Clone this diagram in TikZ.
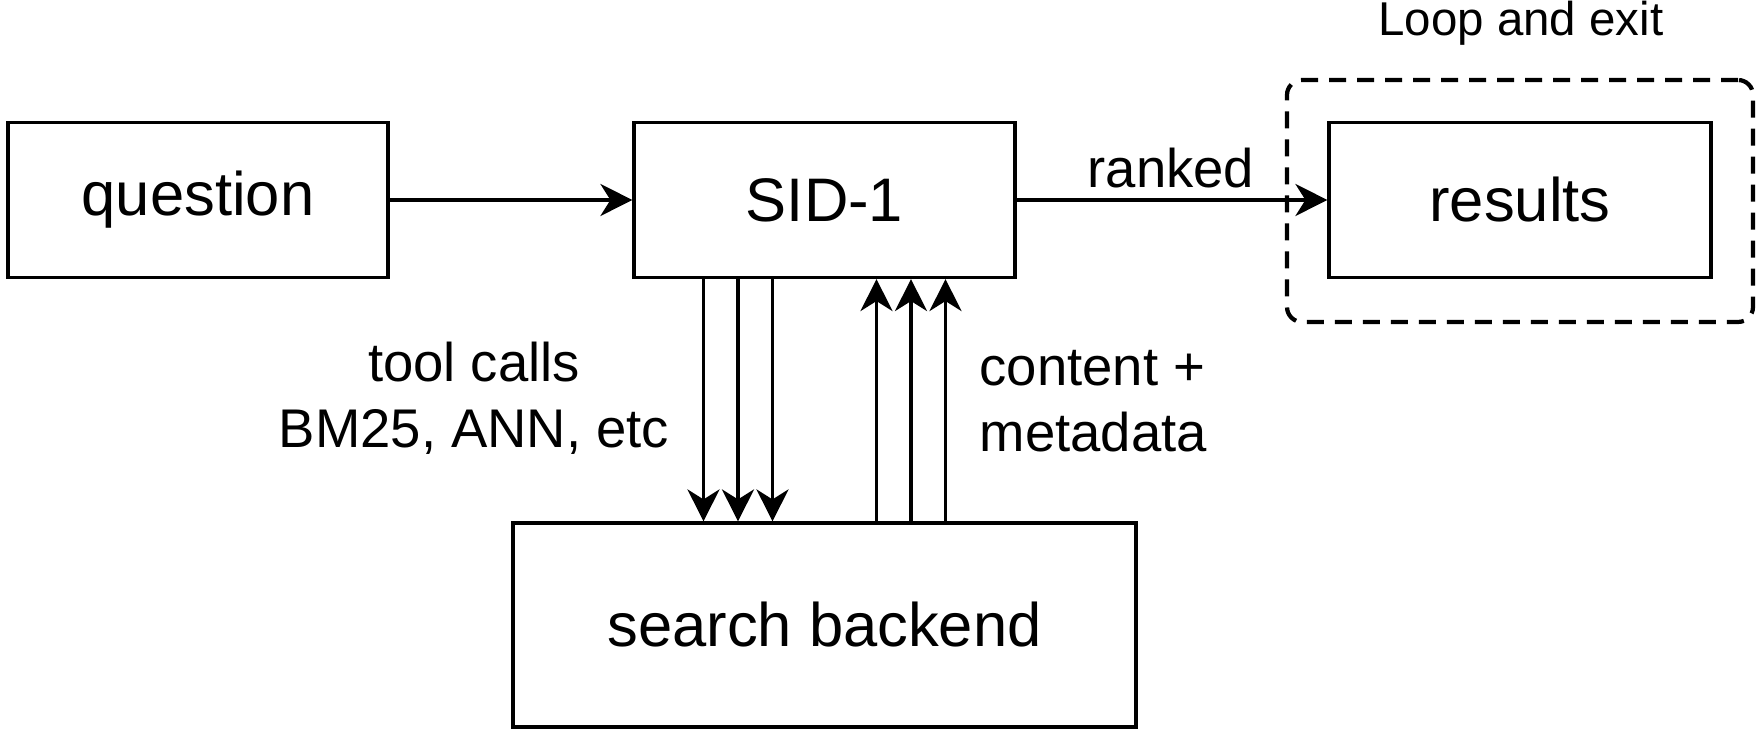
\documentclass[tikz,border=0pt]{standalone}
\usepackage{fontspec}
\setmainfont{Liberation Sans}
\usetikzlibrary{arrows.meta}

\begin{document}
\begin{tikzpicture}[
    box/.style={draw,line width=0.9pt,minimum height=1.55cm,font=\fontsize{17.5}{21}\selectfont},
    flow/.style={line width=0.9pt,-{Stealth[length=0.32cm,width=0.32cm,inset=0.1cm]}},
    lbl/.style={font=\fontsize{15.5}{18.8}\selectfont}
]
\useasboundingbox (0,0) rectangle (17.6,-7.4);

% main boxes
\node[box,minimum width=3.8cm] (question) at (1.98,-2.0) {question};
\node[box,minimum width=3.81cm] (sid) at (8.245,-2.0) {SID-1};
\node[box,minimum width=3.82cm] (results) at (15.2,-2.0) {results};
\node[box,minimum width=6.23cm,minimum height=2.04cm] (backend) at (8.245,-6.25) {search backend};

% loop region
\node[draw,line width=1.2pt,dash pattern=on 0.17cm off 0.11cm,rounded corners=0.15cm,
      minimum width=4.66cm,minimum height=2.42cm] (loop) at (15.2,-2.01) {};
\node[lbl,font=\fontsize{13.5}{16}\selectfont,anchor=base,inner sep=0pt] (looplbl) at (15.21,-0.36) {Loop and exit};

\draw[flow] (question) -- (sid);
\draw[flow] (sid) -- (results);
\node[lbl] (ranked) at (11.71,-1.68) {ranked};

% tool calls down, content up
\foreach \dx in {1.21,0.865,0.52}
	{
	\draw[flow] ([xshift=-\dx cm]sid.south) -- ([xshift=-\dx cm]backend.north);
	\draw[flow] ([xshift=\dx cm]backend.north) -- ([xshift=\dx cm]sid.south);
	}

\node[lbl,align=center] (calls) at (4.74,-3.985) {tool calls\\BM25, ANN, etc};
\node[lbl,align=left,anchor=west,inner sep=0pt] (content) at (9.79,-4.015) {content +\\metadata};
\end{tikzpicture}
\end{document}
